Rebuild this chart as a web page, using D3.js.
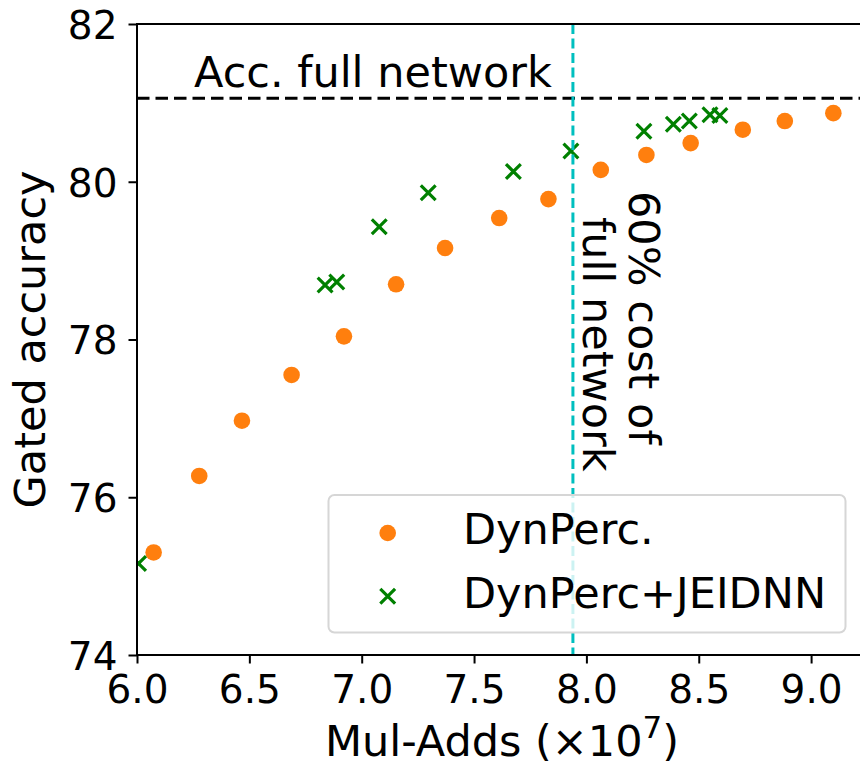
<!DOCTYPE html>
<html>
<head>
<meta charset="utf-8">
<script src="https://cdn.jsdelivr.net/npm/d3@7"></script>
<style>
  html, body { margin: 0; padding: 0; background: #fff; }
  svg { display: block; font-family: "DejaVu Sans", sans-serif; }
</style>
</head>
<body>
<div id="chart"></div>
<script>
// ---- data ----
const dynPercX = [6.074, 6.277, 6.467, 6.688, 6.921, 7.153, 7.371, 7.612, 7.831, 8.064, 8.267, 8.464, 8.696, 8.883, 9.099];
const dynPercY = [75.30, 76.27, 76.97, 77.55, 78.04, 78.70, 79.16, 79.54, 79.78, 80.15, 80.34, 80.49, 80.66, 80.77, 80.87];
const jeidnnX = [6.007, 6.837, 6.889, 7.078, 7.296, 7.675, 7.931, 8.256, 8.387, 8.458, 8.550, 8.594];
const jeidnnY = [75.16, 78.69, 78.73, 79.43, 79.86, 80.13, 80.39, 80.64, 80.73, 80.77, 80.85, 80.84];
const fullAcc = 81.06;
const costLine = 7.94;
const xTicks = [6.0, 6.5, 7.0, 7.5, 8.0, 8.5, 9.0];
const yTicks = [74, 76, 78, 80, 82];
const seriesNames = ["DynPerc.", "DynPerc+JEIDNN"];

// ---- layout ----
const W = 860, H = 766;
const pLeft = 137, pTop = 24, pBottom = 655;
const xDomain = [6.0, 9.25];
const pRight = pLeft + (xDomain[1] - xDomain[0]) * 224.7;
const FS = 43;

const svg = d3.select("#chart").append("svg").attr("width", W).attr("height", H);

const x = d3.scaleLinear().domain(xDomain).range([pLeft, pRight]);
const y = d3.scaleLinear().domain([74, 82]).range([pBottom, pTop]);

svg.append("defs").append("clipPath").attr("id", "plotclip")
  .append("rect").attr("x", pLeft).attr("y", pTop).attr("width", pRight - pLeft).attr("height", pBottom - pTop);

const plot = svg.append("g").attr("clip-path", "url(#plotclip)");

// DynPerc points
plot.selectAll("circle.dp").data(dynPercX.map((d, i) => [d, dynPercY[i]]))
  .enter().append("circle").attr("class", "dp")
  .attr("cx", d => x(d[0])).attr("cy", d => y(d[1])).attr("r", 8.3)
  .attr("fill", "#ff7f0e");

// JEIDNN crosses
const cs = 7.4;
const crossPath = `M${-cs},${-cs}L${cs},${cs}M${-cs},${cs}L${cs},${-cs}`;
plot.selectAll("path.je").data(jeidnnX.map((d, i) => [d, jeidnnY[i]]))
  .enter().append("path").attr("class", "je")
  .attr("transform", d => `translate(${x(d[0])},${y(d[1])})`)
  .attr("d", crossPath).attr("stroke", "#008000").attr("stroke-width", 3.2).attr("fill", "none");

// reference lines
plot.append("line").attr("x1", pLeft).attr("x2", pRight).attr("y1", y(fullAcc)).attr("y2", y(fullAcc))
  .attr("stroke", "#000").attr("stroke-width", 3).attr("stroke-dasharray", "12.5,6");
plot.append("line").attr("x1", x(costLine)).attr("x2", x(costLine)).attr("y1", pTop).attr("y2", pBottom)
  .attr("stroke", "#00bfbf").attr("stroke-width", 3).attr("stroke-dasharray", "10,4.5");

// annotations
svg.append("text").attr("x", 194).attr("y", 87).attr("font-size", FS).attr("fill", "#000")
  .text("Acc. full network");
svg.append("text").attr("transform", `translate(629,191) rotate(90)`).attr("font-size", FS).attr("fill", "#000")
  .text("60% cost of");
svg.append("text").attr("transform", `translate(583,217) rotate(90)`).attr("font-size", FS).attr("fill", "#000")
  .text("full network");

// axes
const xAxis = d3.axisBottom(x).tickValues(xTicks).tickFormat(d3.format(".1f")).tickSize(8.5).tickPadding(10);
const gx = svg.append("g").attr("transform", `translate(0,${pBottom})`).call(xAxis);
gx.select(".domain").remove();
gx.selectAll(".tick line").attr("stroke", "#000").attr("stroke-width", 2);
gx.selectAll(".tick text").attr("font-size", 39).attr("fill", "#000")
  .attr("font-family", "DejaVu Sans").attr("dy", null).attr("y", 48);

const yAxis = d3.axisLeft(y).tickValues(yTicks).tickFormat(d3.format("d")).tickSize(8.5).tickPadding(11);
const gy = svg.append("g").attr("transform", `translate(${pLeft},0)`).call(yAxis);
gy.select(".domain").remove();
gy.selectAll(".tick line").attr("stroke", "#000").attr("stroke-width", 2);
gy.selectAll(".tick text").attr("font-size", 39).attr("fill", "#000")
  .attr("font-family", "DejaVu Sans").attr("dy", "0.37em");

// spines
svg.append("rect").attr("x", pLeft).attr("y", pTop).attr("width", pRight - pLeft).attr("height", pBottom - pTop)
  .attr("fill", "none").attr("stroke", "#000").attr("stroke-width", 2);

// axis labels
const xl = svg.append("text").attr("x", 502).attr("y", 755.5).attr("text-anchor", "middle")
  .attr("font-size", FS).attr("fill", "#000");
xl.append("tspan").text("Mul-Adds (\u00d710");
xl.append("tspan").attr("font-size", 31).attr("dy", -18).text("7");
xl.append("tspan").attr("dy", 18).text(")");

svg.append("text").attr("transform", `translate(44.5,${(pTop + pBottom) / 2}) rotate(-90)`)
  .attr("text-anchor", "middle").attr("font-size", FS).attr("fill", "#000").text("Gated accuracy");

// legend
const lg = svg.append("g");
lg.append("rect").attr("x", 328.5).attr("y", 495).attr("width", 517).attr("height", 137.5)
  .attr("rx", 6).attr("ry", 6).attr("fill", "#fff").attr("fill-opacity", 0.8)
  .attr("stroke", "#d6d6d6").attr("stroke-width", 2);
lg.append("circle").attr("cx", 387.7).attr("cy", 533).attr("r", 8.3).attr("fill", "#ff7f0e");
lg.append("path").attr("transform", "translate(387.7,596.3)").attr("d", crossPath)
  .attr("stroke", "#008000").attr("stroke-width", 3.2).attr("fill", "none");
lg.append("text").attr("x", 463).attr("y", 543.5).attr("font-size", FS).attr("fill", "#000").text(seriesNames[0]);
lg.append("text").attr("x", 463).attr("y", 607.5).attr("font-size", FS).attr("fill", "#000").text(seriesNames[1]);
</script>
</body>
</html>
